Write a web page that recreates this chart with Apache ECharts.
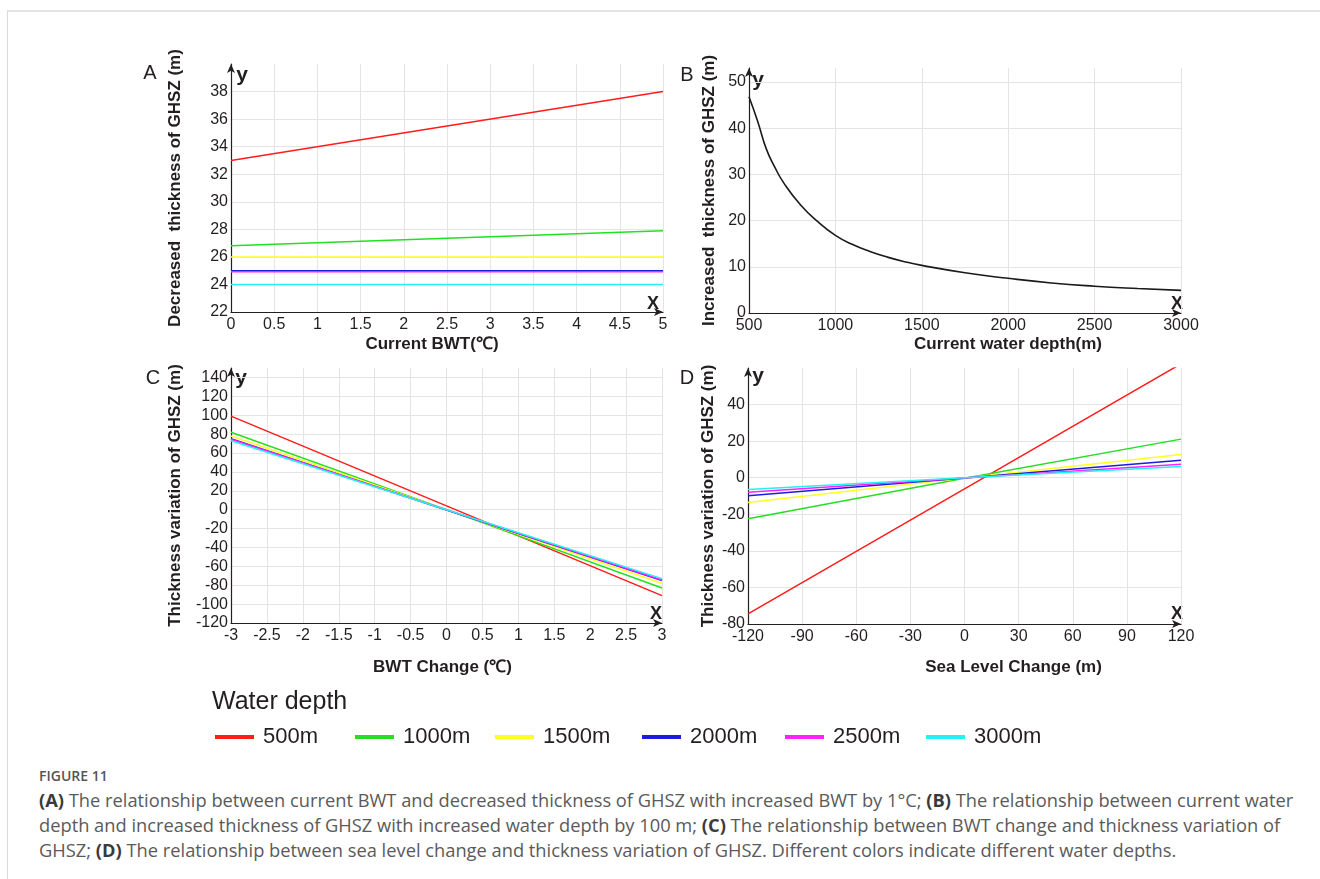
<!DOCTYPE html>
<html>
<head>
<meta charset="utf-8">
<script src="https://cdn.jsdelivr.net/npm/echarts@6/dist/echarts.min.js"></script>
<style>
  html, body { margin: 0; padding: 0; background: #fff; }
  .page { position: relative; width: 1320px; height: 879px; overflow: hidden; }
  .frame {
    position: absolute; left: 7px; top: 10px; right: 0; bottom: 0;
    border-top: 2px solid #e3e3e3; border-left: 1px solid #d9d9d9;
  }
  #chart { position: absolute; left: 0; top: 0; width: 1320px; height: 765px; }
  .fig-label {
    position: absolute; left: 39px; top: 767px;
    font: 600 14px "Open Sans", "Noto Sans", sans-serif; color: #555; line-height: 18px;
  }
  .caption {
    position: absolute; left: 39px; top: 787px; width: 1280px;
    font: 18.3px "Open Sans", "Noto Sans", sans-serif; color: #5a5a5a; line-height: 25px;
    white-space: nowrap;
  }
  .caption b { color: #3a3a3a; font-weight: 700; }
</style>
</head>
<body>
<div class="page">
  <div class="frame"></div>
  <div id="chart"></div>
  <div class="fig-label">FIGURE 11</div>
  <div class="caption">
    <b>(A)</b> The relationship between current BWT and decreased thickness of GHSZ with increased BWT by 1°C; <b>(B)</b> The relationship between current water<br>
    depth and increased thickness of GHSZ with increased water depth by 100 m; <b>(C)</b> The relationship between BWT change and thickness variation of<br>
    GHSZ; <b>(D)</b> The relationship between sea level change and thickness variation of GHSZ. Different colors indicate different water depths.
  </div>
</div>
<script>
// water depths shown in the legend
const depthNames = ['500m', '1000m', '1500m', '2000m', '2500m', '3000m']
const depthColors = ['#ff1c1c', '#22e022', '#ffff22', '#1c1ce0', '#ff22ff', '#22f2f2']

// A: current BWT (°C) vs decreased thickness of GHSZ (m)
const bwtCurrent = [0, 2.5, 5]
const decreased500 = [33, 35.5, 38]
const decreased1000 = [26.8, 27.35, 27.9]
const decreased1500 = [26, 26, 26]
const decreased2000 = [25, 25, 25]
const decreased2500 = [24.92, 24.92, 24.92]
const decreased3000 = [24, 24, 24]

// B: current water depth (m) vs increased thickness of GHSZ (m)
const waterDepth = [500, 550, 600, 650, 700, 800, 900, 1000, 1100, 1200, 1300, 1400, 1500, 1750, 2000, 2250, 2500, 2750, 3000]
const increased = [46.8, 41.5, 35.5, 31.5, 28.2, 23.3, 19.7, 16.8, 14.8, 13.3, 12.1, 11.1, 10.3, 8.7, 7.5, 6.5, 5.8, 5.3, 4.9]

// C: BWT change (°C) vs thickness variation (m)
const bwtChange = [-3, 0, 3]
const bwtVar500 = [99, 4, -91]
const bwtVar1000 = [82, 0, -83]
const bwtVar1500 = [78, 0, -78]
const bwtVar2000 = [75, -0.5, -75]
const bwtVar2500 = [74.5, 0, -74.5]
const bwtVar3000 = [73, 0, -73]

// D: sea level change (m) vs thickness variation (m)
const seaLevel = [-120, 0, 120]
const seaVar500 = [-74.5, -6.1, 62.3]
const seaVar1000 = [-22.5, -0.3, 21.1]
const seaVar1500 = [-13.5, -0.2, 12.7]
const seaVar2000 = [-9.8, -0.2, 9.5]
const seaVar2500 = [-8, -0.1, 7.3]
const seaVar3000 = [-6.4, 0, 6.2]

const ink = '#231f20'
const gridColor = '#e4e4e4'
const font = '"Liberation Sans", Arial, sans-serif'
// left edge of each legend entry
const legendLefts = [215, 355, 495, 642, 785, 926]

function pairs(xs, ys) {
  return xs.map((x, i) => [x, ys[i]])
}

function depthSeries(panel, idx, xs, ys) {
  return {
    name: depthNames[idx],
    type: 'line',
    xAxisIndex: panel,
    yAxisIndex: panel,
    data: pairs(xs, ys),
    showSymbol: false,
    silent: true,
    clip: true,
    lineStyle: { width: 1.5, color: depthColors[idx] },
    itemStyle: { color: depthColors[idx] },
    emphasis: { disabled: true }
  }
}

function axis(panel, min, max, interval, isY, name, nameGap, namePadding) {
  return {
    type: 'value',
    gridIndex: panel,
    min,
    max,
    interval,
    name,
    nameLocation: 'middle',
    nameGap,
    nameRotate: isY ? 90 : 0,
    nameMoveOverlap: false,
    nameTextStyle: {
      fontFamily: font, fontSize: 17, fontWeight: 'bold', color: ink,
      padding: namePadding || 0
    },
    axisLine: {
      show: true,
      onZero: false,
      symbol: ['none', 'arrow'],
      symbolSize: [6, 9],
      lineStyle: { color: ink, width: 1.2 }
    },
    axisTick: { show: false },
    axisLabel: {
      fontFamily: font, fontSize: 16, color: ink, margin: isY ? 3 : 5,
      showMaxLabel: !isY, hideOverlap: false,
      formatter: (v) => String(v)
    },
    splitLine: { show: true, showMaxLine: !isY, lineStyle: { color: gridColor, width: 1 } }
  }
}

function note(text, x, y, size, bold) {
  return {
    type: 'text',
    x,
    y,
    silent: true,
    style: {
      text,
      fontFamily: font,
      fontSize: size,
      fontWeight: bold ? 'bold' : 'normal',
      fill: ink,
      align: 'center',
      verticalAlign: 'middle'
    }
  }
}

const legends = depthNames.map((name, i) => ({
  left: legendLefts[i],
  top: 726,
  padding: 0,
  data: [name],
  icon: 'rect',
  itemWidth: 39,
  itemHeight: 4,
  selectedMode: false,
  textStyle: { fontFamily: font, fontSize: 22, color: ink, padding: [0, 0, 0, 4] }
}))

const chart = echarts.init(document.getElementById('chart'), null, { renderer: 'canvas' })

chart.setOption({
  animation: false,
  backgroundColor: 'transparent',
  grid: [
    { left: 231, top: 64, width: 432, height: 248, outerBoundsMode: 'none' },
    { left: 749, top: 68, width: 432, height: 245, outerBoundsMode: 'none' },
    { left: 231, top: 368, width: 431, height: 255, outerBoundsMode: 'none' },
    { left: 748, top: 368, width: 433, height: 256, outerBoundsMode: 'none' }
  ],
  xAxis: [
    axis(0, 0, 5, 0.5, false, 'Current BWT(℃)', 24, [0, 30, 0, 0]),
    axis(1, 500, 3000, 500, false, 'Current water depth(m)', 23, [0, 0, 0, 86]),
    axis(2, -3, 3, 0.5, false, 'BWT Change (℃)', 36, [0, 8, 0, 0]),
    axis(3, -120, 120, 30, false, 'Sea Level Change (m)', 35, [0, 0, 0, 98])
  ],
  yAxis: [
    axis(0, 22, 40, 2, true, 'Decreased  thickness of GHSZ (m)', 47),
    axis(1, 0, 53, 10, true, 'Increased  thickness of GHSZ (m)', 31),
    axis(2, -120, 150, 20, true, 'Thickness variation of GHSZ (m)', 47),
    axis(3, -80, 60, 20, true, 'Thickness variation of GHSZ (m)', 31)
  ],
  legend: legends,
  graphic: [
    note('A', 150, 73, 20, false),
    note('B', 687, 75, 20, false),
    note('C', 153, 378, 20, false),
    note('D', 687, 378, 20, false),
    note('y', 242, 75, 21, true),
    note('y', 758, 80, 21, true),
    note('y', 241, 378, 21, true),
    note('y', 758, 376, 21, true),
    note('X', 653, 304, 18, true),
    note('X', 1177, 304, 18, true),
    note('X', 656, 614, 18, true),
    note('X', 1177, 614, 18, true),
    {
      type: 'text', left: 212, top: 690, silent: true,
      style: { text: 'Water depth', fontFamily: font, fontSize: 25, fill: ink }
    }
  ],
  series: [
    depthSeries(0, 0, bwtCurrent, decreased500),
    depthSeries(0, 1, bwtCurrent, decreased1000),
    depthSeries(0, 2, bwtCurrent, decreased1500),
    depthSeries(0, 3, bwtCurrent, decreased2000),
    depthSeries(0, 4, bwtCurrent, decreased2500),
    depthSeries(0, 5, bwtCurrent, decreased3000),
    {
      name: 'Increased thickness',
      type: 'line',
      xAxisIndex: 1,
      yAxisIndex: 1,
      data: pairs(waterDepth, increased),
      smooth: true,
      showSymbol: false,
      silent: true,
      lineStyle: { width: 1.6, color: '#1a1a1a' },
      emphasis: { disabled: true }
    },
    depthSeries(2, 0, bwtChange, bwtVar500),
    depthSeries(2, 1, bwtChange, bwtVar1000),
    depthSeries(2, 2, bwtChange, bwtVar1500),
    depthSeries(2, 3, bwtChange, bwtVar2000),
    depthSeries(2, 4, bwtChange, bwtVar2500),
    depthSeries(2, 5, bwtChange, bwtVar3000),
    depthSeries(3, 0, seaLevel, seaVar500),
    depthSeries(3, 1, seaLevel, seaVar1000),
    depthSeries(3, 2, seaLevel, seaVar1500),
    depthSeries(3, 3, seaLevel, seaVar2000),
    depthSeries(3, 4, seaLevel, seaVar2500),
    depthSeries(3, 5, seaLevel, seaVar3000)
  ]
})
</script>
</body>
</html>
